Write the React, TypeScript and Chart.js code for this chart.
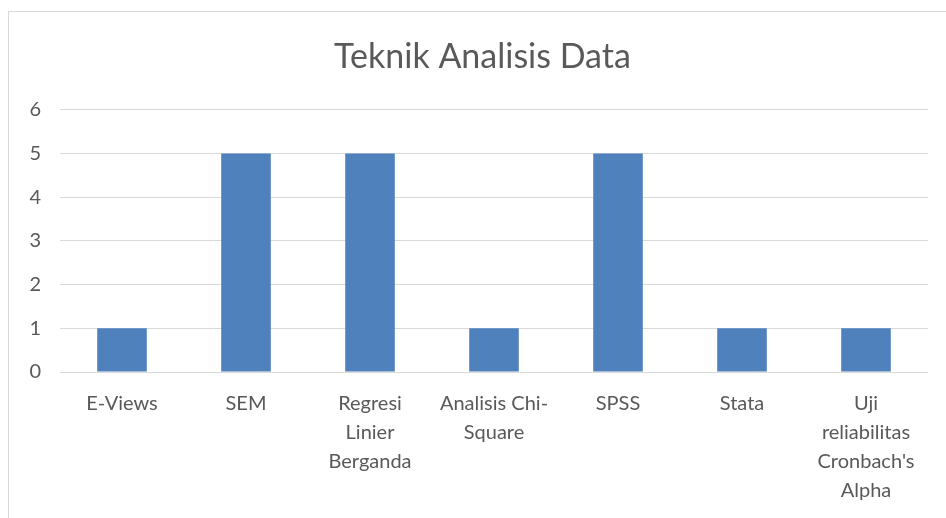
import React, { useEffect, useRef } from "react";
import { Chart, registerables } from "chart.js";

Chart.register(...registerables);

const categories: (string | string[])[] = [
  "E-Views",
  "SEM",
  ["Regresi", "Linier", "Berganda"],
  ["Analisis Chi-", "Square"],
  "SPSS",
  "Stata",
  ["Uji", "reliabilitas", "Cronbach's", "Alpha"],
];
const values = [1, 5, 5, 1, 5, 1, 1];
const titleText = "Teknik Analisis Data";
const yMin = 0;
const yMax = 6;

const titleShift = {
  id: "titleShift",
  afterLayout(chart: any) {
    const t = chart.titleBlock;
    if (t) {
      t.left += 28;
    }
  },
};

export default function App() {
  const ref = useRef<HTMLCanvasElement>(null);
  useEffect(() => {
    document.body.style.overflow = "hidden";
    const ctx = ref.current!;
    const font = "Lato, 'Open Sans', sans-serif";
    const chart = new Chart(ctx, {
      type: "bar",
      data: {
        labels: categories,
        datasets: [
          {
            data: values,
            backgroundColor: "#4F81BD",
            borderWidth: 0,
            barPercentage: 0.4,
            categoryPercentage: 1,
          },
        ],
      },
      plugins: [titleShift],
      options: {
        animation: false,
        responsive: false,
        maintainAspectRatio: false,
        layout: { padding: { left: 0, top: 0, right: 18, bottom: 0 } },
        plugins: {
          legend: { display: false },
          tooltip: { enabled: false },
          title: {
            display: true,
            text: titleText,
            color: "#595959",
            font: { family: font, size: 34, weight: "normal", lineHeight: 1.2 },
            padding: { top: 25, bottom: 32 },
          },
        },
        scales: {
          x: {
            grid: { display: false, drawTicks: false },
            border: { display: false },
            ticks: {
              color: "#595959",
              font: { family: font, size: 20, lineHeight: 1.45 },
              padding: 17,
              maxRotation: 0,
              autoSkip: false,
            },
            afterFit: (s: any) => {
              s.height = 146;
            },
          },
          y: {
            min: yMin,
            max: yMax,
            grid: { color: "#d9d9d9", lineWidth: 1, drawTicks: false },
            border: { display: false },
            ticks: {
              stepSize: 1,
              color: "#595959",
              font: { family: font, size: 20 },
              padding: 19,
            },
            afterFit: (s: any) => {
              s.width = 51;
            },
          },
        },
      },
    });
    return () => chart.destroy();
  }, []);
  return (
    <div
      style={{
        position: "fixed",
        left: 8,
        top: 11,
        right: 0,
        bottom: 0,
        borderLeft: "1px solid #d9d9d9",
        borderTop: "1px solid #d9d9d9",
        background: "#fff",
      }}
    >
      <canvas ref={ref} width={937} height={506} style={{ display: "block" }} />
    </div>
  );
}
